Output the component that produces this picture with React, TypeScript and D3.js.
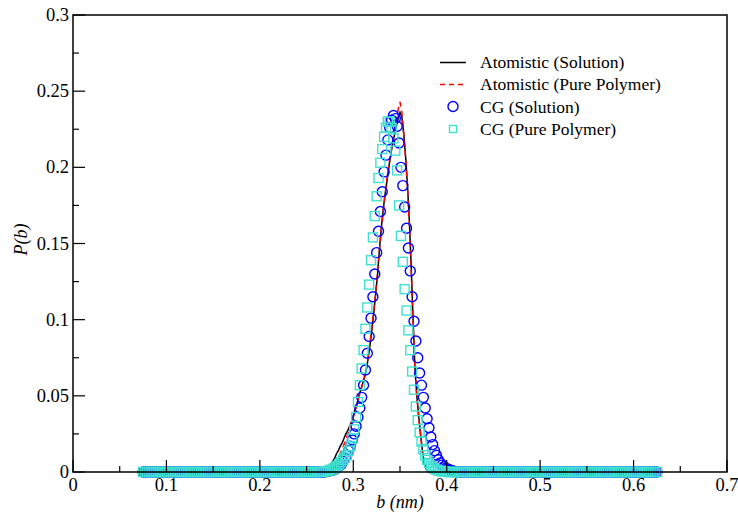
import React from "react";
import * as d3 from "d3";

// ---- Data ----
// CG grid: b from 0.075 to 0.625 nm, step 0.002 (276 points)
const cgStart = 0.075;
const cgStep = 0.002;

const cgSolution: number[] = [
  // 0.075 .. 0.269 (98 zeros)
  0,0,0,0,0,0,0,0,0,0,0,0,0,0,0,0,0,0,0,0,
  0,0,0,0,0,0,0,0,0,0,0,0,0,0,0,0,0,0,0,0,
  0,0,0,0,0,0,0,0,0,0,0,0,0,0,0,0,0,0,0,0,
  0,0,0,0,0,0,0,0,0,0,0,0,0,0,0,0,0,0,0,0,
  0,0,0,0,0,0,0,0,0,0,0,0,0,0,0,0,0,0,
  // 0.271 .. 0.411
  0.0003,0.0005,0.0008,0.001,0.0015,0.002,0.003,0.004,0.005,0.007,
  0.009,0.011,0.014,0.017,0.021,0.025,0.030,0.036,0.042,0.049,
  0.057,0.067,0.078,0.089,0.101,0.115,0.130,0.144,0.158,0.171,
  0.184,0.197,0.208,0.218,0.226,0.231,0.234,0.232,0.227,0.216,
  0.200,0.188,0.174,0.160,0.147,0.132,0.115,0.099,0.086,0.075,
  0.065,0.057,0.049,0.042,0.035,0.029,0.023,0.018,0.014,0.011,
  0.008,0.006,0.0045,0.0035,0.0025,0.002,0.0015,0.001,0.0007,0.0004,
  0.0002,
  // 0.413 .. 0.625 (107 zeros)
  0,0,0,0,0,0,0,0,0,0,0,0,0,0,0,0,0,0,0,0,
  0,0,0,0,0,0,0,0,0,0,0,0,0,0,0,0,0,0,0,0,
  0,0,0,0,0,0,0,0,0,0,0,0,0,0,0,0,0,0,0,0,
  0,0,0,0,0,0,0,0,0,0,0,0,0,0,0,0,0,0,0,0,
  0,0,0,0,0,0,0,0,0,0,0,0,0,0,0,0,0,0,0,0,
  0,0,0,0,0,0,0,
];

const cgPure: number[] = [
  // 0.075 .. 0.267 (97 zeros)
  0,0,0,0,0,0,0,0,0,0,0,0,0,0,0,0,0,0,0,0,
  0,0,0,0,0,0,0,0,0,0,0,0,0,0,0,0,0,0,0,0,
  0,0,0,0,0,0,0,0,0,0,0,0,0,0,0,0,0,0,0,0,
  0,0,0,0,0,0,0,0,0,0,0,0,0,0,0,0,0,0,0,0,
  0,0,0,0,0,0,0,0,0,0,0,0,0,0,0,0,0,
  // 0.269 .. 0.399
  0.0003,0.0005,0.0008,0.0012,0.0017,0.0023,0.003,0.004,0.005,0.0065,
  0.008,0.0095,0.011,0.014,0.017,0.022,0.028,0.036,0.046,0.057,
  0.068,0.080,0.094,0.108,0.123,0.139,0.154,0.168,0.181,0.193,
  0.203,0.212,0.220,0.226,0.230,0.230,0.226,0.219,0.211,0.198,
  0.175,0.155,0.138,0.120,0.106,0.093,0.080,0.066,0.054,0.043,
  0.034,0.026,0.020,0.015,0.011,0.008,0.006,0.004,0.003,0.002,
  0.0015,0.001,0.0007,0.0005,0.0003,0.0002,
  // 0.401 .. 0.625 (113 zeros)
  0,0,0,0,0,0,0,0,0,0,0,0,0,0,0,0,0,0,0,0,
  0,0,0,0,0,0,0,0,0,0,0,0,0,0,0,0,0,0,0,0,
  0,0,0,0,0,0,0,0,0,0,0,0,0,0,0,0,0,0,0,0,
  0,0,0,0,0,0,0,0,0,0,0,0,0,0,0,0,0,0,0,0,
  0,0,0,0,0,0,0,0,0,0,0,0,0,0,0,0,0,0,0,0,
  0,0,0,0,0,0,0,0,0,0,0,0,0,
];

// Atomistic grid: b from 0.250 to 0.400 nm, step 0.002 (76 points)
const atStart = 0.25;
const atStep = 0.002;

const atomSolution: number[] = [
  0,0,0,0,0,0,0.0002,0.0003,0.0005,0.0008,
  0.0012,0.002,0.003,0.005,0.007,0.009,0.012,0.014,0.017,0.019,
  0.022,0.025,0.027,0.030,0.033,0.037,0.041,0.045,0.050,0.054,
  0.058,0.062,0.067,0.075,0.084,0.094,0.105,0.117,0.130,0.146,
  0.160,0.172,0.182,0.191,0.200,0.208,0.215,0.221,0.227,0.232,
  0.236,0.233,0.222,0.207,0.188,0.165,0.135,0.100,0.068,0.050,
  0.037,0.025,0.014,0.006,0.002,0.0005,0,0,0,0,
  0,0,0,0,0,0,
];

const atomPure: number[] = [
  0,0,0,0,0,0,0,0,0,0,
  0.0005,0.001,0.0015,0.002,0.003,0.005,0.007,0.009,0.012,0.015,
  0.018,0.021,0.025,0.028,0.032,0.036,0.040,0.044,0.049,0.054,
  0.058,0.063,0.068,0.076,0.085,0.095,0.106,0.118,0.132,0.146,
  0.159,0.171,0.182,0.192,0.201,0.209,0.217,0.224,0.231,0.238,
  0.243,0.236,0.222,0.206,0.187,0.163,0.132,0.098,0.068,0.050,
  0.036,0.024,0.013,0.005,0.0015,0,0,0,0,0,
  0,0,0,0,0,0,
];

const xTicks = [0, 0.1, 0.2, 0.3, 0.4, 0.5, 0.6, 0.7];
const xTickLabels = ["0", "0.1", "0.2", "0.3", "0.4", "0.5", "0.6", "0.7"];
const xMinor = [0.05, 0.15, 0.25, 0.35, 0.45, 0.55, 0.65];
const yTicks = [0, 0.05, 0.1, 0.15, 0.2, 0.25, 0.3];
const yTickLabels = ["0", "0.05", "0.1", "0.15", "0.2", "0.25", "0.3"];
const yMinor = [0.025, 0.075, 0.125, 0.175, 0.225, 0.275];

const legendLabels = [
  "Atomistic (Solution)",
  "Atomistic (Pure Polymer)",
  "CG (Solution)",
  "CG (Pure Polymer)",
];

// ---- Layout ----
const W = 738;
const H = 515;
const L = 73;
const R = 727;
const T = 15;
const B = 472;
const SERIF = '"Liberation Serif"';

function Label(props: {
  x: number;
  y: number;
  size: number;
  anchor?: string;
  italic?: boolean;
  dy?: string;
  transform?: string;
  children: React.ReactNode;
}) {
  return (
    <text
      x={props.x}
      y={props.y}
      dy={props.dy}
      transform={props.transform}
      textAnchor={props.anchor || "start"}
      fontSize={props.size}
      fontStyle={props.italic ? "italic" : "normal"}
      fill="#000"
      style={{ fontFamily: SERIF }}
    >
      {props.children}
    </text>
  );
}

export default function App() {
  const x = d3.scaleLinear().domain([0, 0.7]).range([L, R]);
  const y = d3.scaleLinear().domain([0, 0.3]).range([B, T]);

  const cgPts = (arr: number[]) =>
    arr.map((v, i) => [cgStart + cgStep * i, v] as [number, number]);
  const atPts = (arr: number[]) =>
    arr.map((v, i) => [atStart + atStep * i, v] as [number, number]);

  const line = d3
    .line<[number, number]>()
    .x((d) => x(d[0]))
    .y((d) => y(d[1]));

  const circR = 5;
  const sq = 9;

  return (
    <svg width={W} height={H} style={{ position: "absolute", left: 0, top: 0 }}>
      <style>{`text { font-family: "Liberation Serif" !important; }`}</style>
      <rect x={0} y={0} width={W} height={H} fill="#fff" />

      {/* series */}
      <path d={line(atPts(atomSolution)) || ""} fill="none" stroke="#000" strokeWidth={1.5} />
      <path
        d={line(atPts(atomPure)) || ""}
        fill="none"
        stroke="#ff0000"
        strokeWidth={1.5}
        strokeDasharray="6,4"
      />
      {cgPts(cgSolution).map((d, i) => (
        <circle
          key={"c" + i}
          cx={x(d[0])}
          cy={y(d[1])}
          r={circR}
          fill="none"
          stroke="#0000ff"
          strokeWidth={1.4}
        />
      ))}
      {cgPts(cgPure).map((d, i) => (
        <rect
          key={"s" + i}
          x={x(d[0]) - sq / 2}
          y={y(d[1]) - sq / 2}
          width={sq}
          height={sq}
          fill="none"
          stroke="#40e0d0"
          strokeWidth={1.4}
        />
      ))}

      {/* frame */}
      <rect x={L} y={T} width={R - L} height={B - T} fill="none" stroke="#000" strokeWidth={1.5} />

      {/* x ticks */}
      {xTicks.map((t, i) => (
        <g key={"xt" + i}>
          <line x1={x(t)} x2={x(t)} y1={B} y2={B - 12} stroke="#000" strokeWidth={1.2} />
          <Label x={x(t)} y={491} size={18.5} anchor="middle">
            {xTickLabels[i]}
          </Label>
        </g>
      ))}
      {xMinor.map((t, i) => (
        <line key={"xm" + i} x1={x(t)} x2={x(t)} y1={B} y2={B - 6} stroke="#000" strokeWidth={1.2} />
      ))}

      {/* y ticks */}
      {yTicks.map((t, i) => (
        <g key={"yt" + i}>
          <line x1={L} x2={L + 12} y1={y(t)} y2={y(t)} stroke="#000" strokeWidth={1.2} />
          <Label x={69} y={y(t)} dy="0.33em" size={18.5} anchor="end">
            {yTickLabels[i]}
          </Label>
        </g>
      ))}
      {yMinor.map((t, i) => (
        <line key={"ym" + i} x1={L} x2={L + 6} y1={y(t)} y2={y(t)} stroke="#000" strokeWidth={1.2} />
      ))}

      {/* axis titles */}
      <Label x={400} y={508} size={18} anchor="middle" italic>
        b (nm)
      </Label>
      <Label
        x={0}
        y={0}
        size={18}
        anchor="middle"
        italic
        transform={`translate(27,${(T + B) / 2 - 4}) rotate(-90)`}
      >
        P(b)
      </Label>

      {/* legend */}
      <g>
        <line x1={440} x2={466} y1={62.5} y2={62.5} stroke="#000" strokeWidth={1.5} />
        <line x1={440} x2={466} y1={84.5} y2={84.5} stroke="#ff0000" strokeWidth={1.5} strokeDasharray="5,4" />
        <circle cx={453} cy={106.5} r={circR} fill="none" stroke="#0000ff" strokeWidth={1.4} />
        <rect x={453 - 3.5} y={129 - 3.5} width={7} height={7} fill="none" stroke="#40e0d0" strokeWidth={1.4} />
        {legendLabels.map((s, i) => (
          <Label key={"lg" + i} x={480} y={62.5 + i * 22.2} dy="0.33em" size={17.5}>
            {s}
          </Label>
        ))}
      </g>
    </svg>
  );
}
